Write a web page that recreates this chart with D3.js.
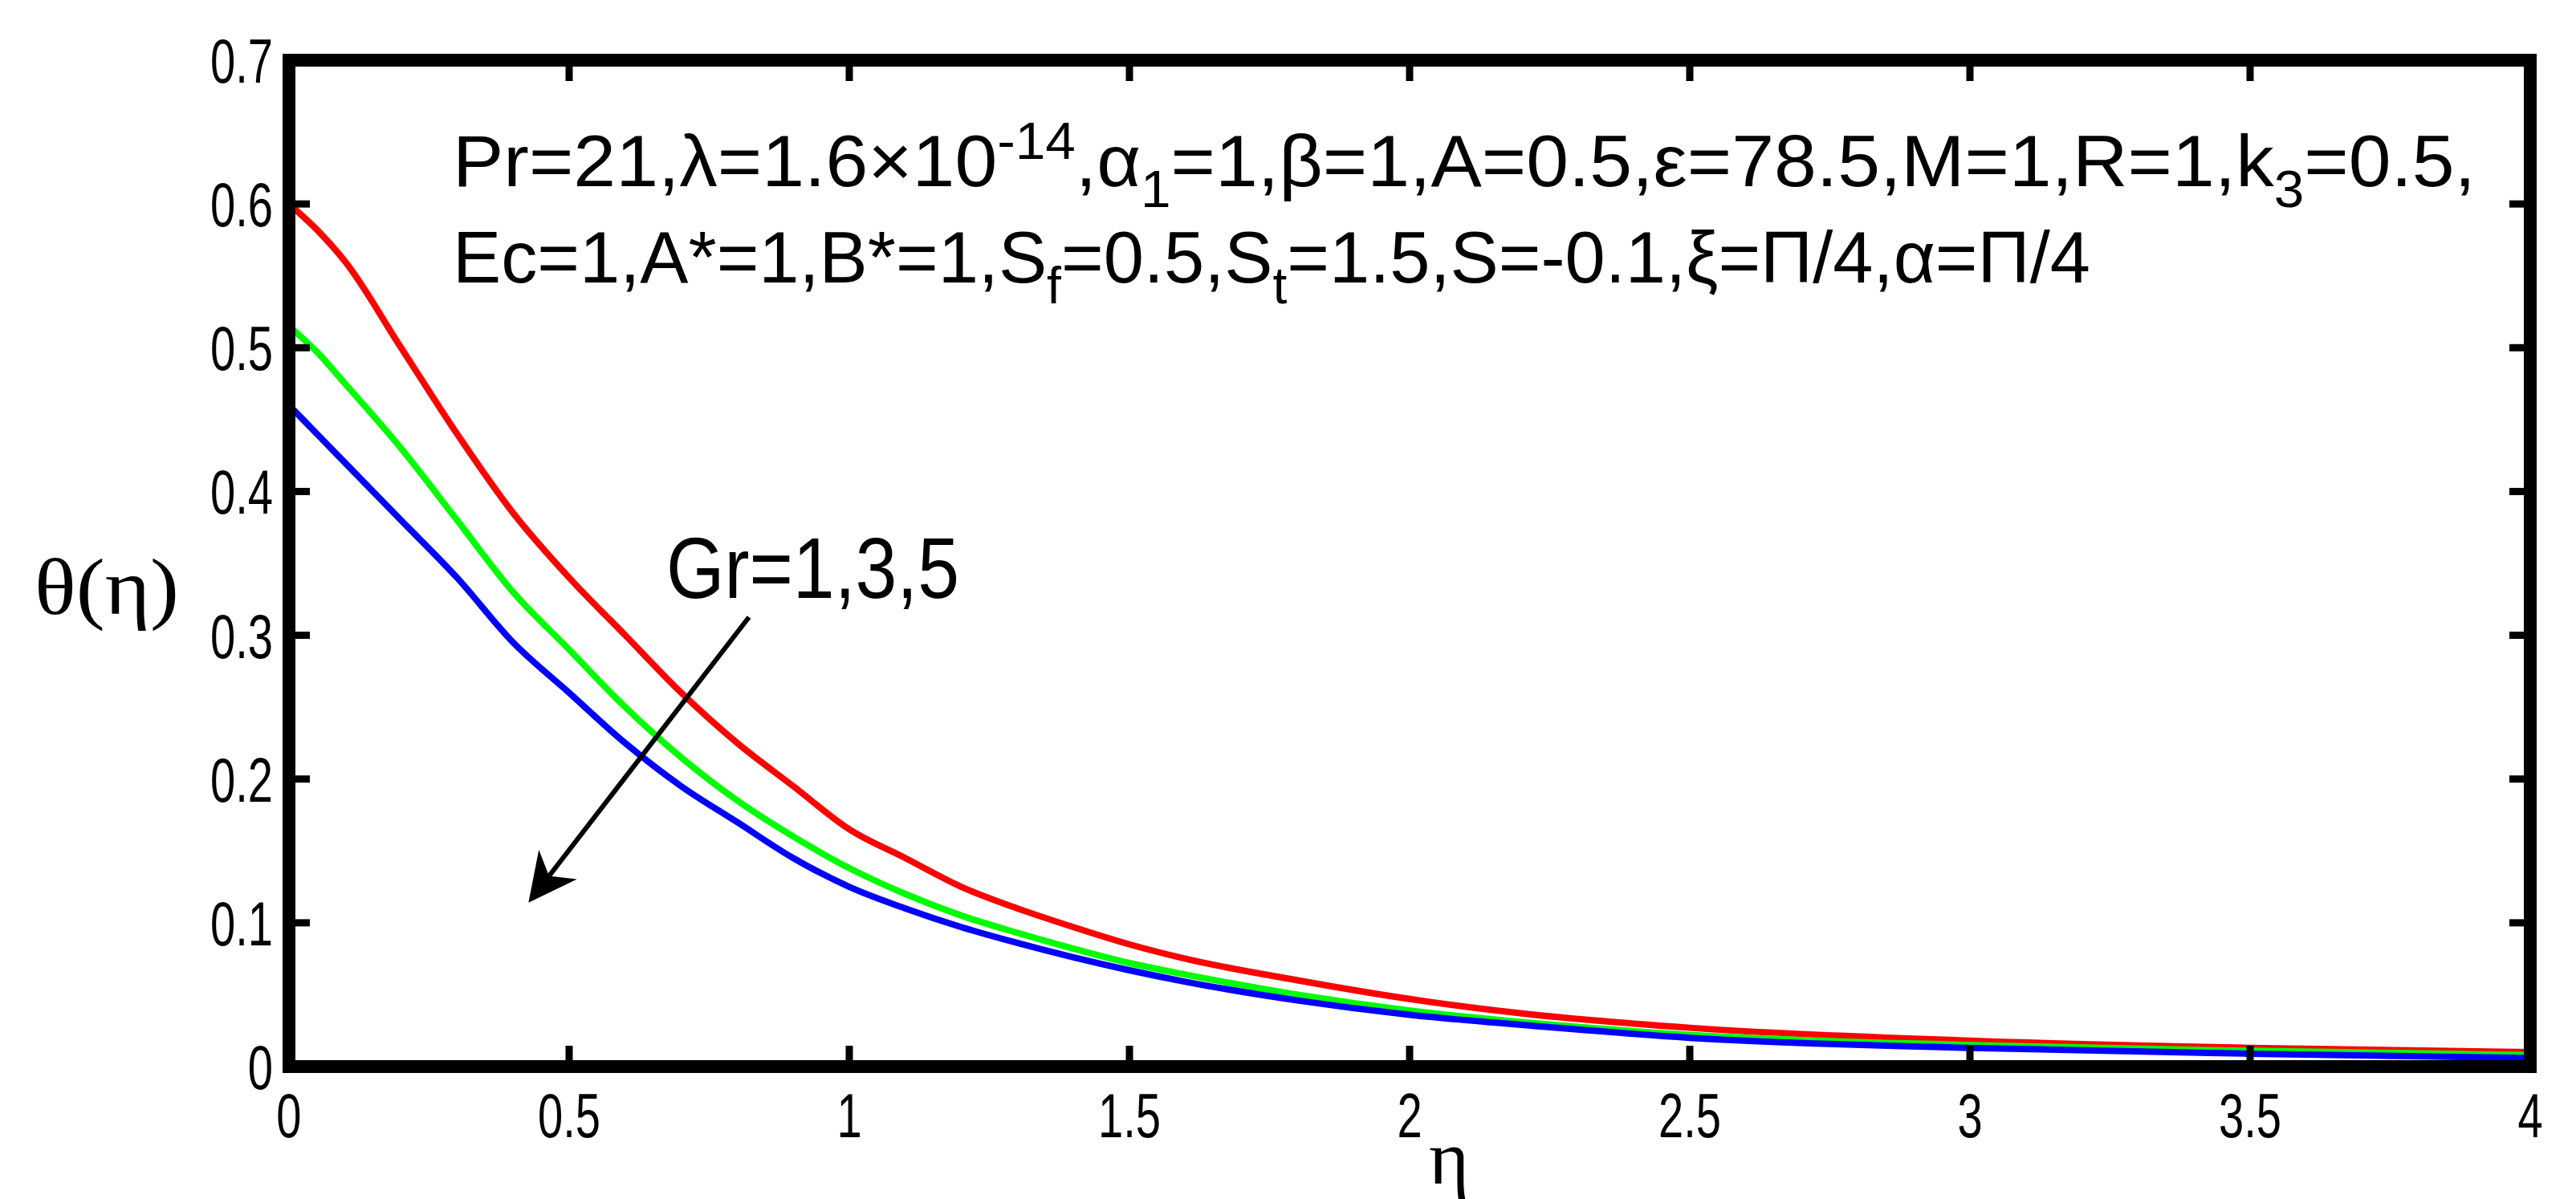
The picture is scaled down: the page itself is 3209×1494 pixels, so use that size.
<!DOCTYPE html>
<html><head><meta charset="utf-8">
<script src="https://cdn.jsdelivr.net/npm/d3@7"></script>
<style>body{margin:0;background:#fff}</style>
</head><body>
<svg id="c" width="3209" height="1494"></svg>
<script>
const eta = [0,0.05,0.1,0.2,0.3,0.4,0.5,0.6,0.7,0.8,0.9,1,1.1,1.2,1.3,1.4,1.5,1.6,1.8,2,2.2,2.5,3,3.5,4];
const gr1 = [0.6,0.582,0.56,0.5,0.44,0.385,0.34,0.3,0.26,0.225,0.195,0.165,0.145,0.125,0.11,0.097,0.085,0.075,0.06,0.047,0.037,0.027,0.018,0.013,0.01];
const gr3 = [0.515,0.497,0.475,0.43,0.38,0.33,0.29,0.25,0.215,0.185,0.16,0.138,0.12,0.105,0.093,0.082,0.072,0.064,0.05,0.039,0.031,0.022,0.015,0.011,0.008];
const gr5 = [0.46,0.44,0.42,0.38,0.34,0.295,0.26,0.225,0.195,0.17,0.145,0.125,0.11,0.097,0.086,0.076,0.067,0.059,0.046,0.036,0.029,0.02,0.013,0.009,0.006];
const xTicks = [0,0.5,1,1.5,2,2.5,3,3.5,4];
const yTicks = [0,0.1,0.2,0.3,0.4,0.5,0.6,0.7];
const series = [{v:gr1,c:"#ff0000"},{v:gr3,c:"#00ff00"},{v:gr5,c:"#0000ff"}];

const svg = d3.select("#c");
const x = d3.scaleLinear().domain([0,4]).range([360,3152]);
const y = d3.scaleLinear().domain([0,0.7]).range([1329,75]);
const font = "Liberation Sans, Arial, sans-serif";

const line = d3.line().x((d,i)=>x(eta[i])).y(d=>y(d)).curve(d3.curveMonotoneX);
series.forEach(s=>svg.append("path").attr("d",line(s.v)).attr("fill","none").attr("stroke",s.c).attr("stroke-width",8));

const tl = 26;
xTicks.forEach(t=>{
  svg.append("line").attr("x1",x(t)).attr("x2",x(t)).attr("y1",y(0)).attr("y2",y(0)-tl).attr("stroke","#000").attr("stroke-width",9);
  svg.append("line").attr("x1",x(t)).attr("x2",x(t)).attr("y1",y(0.7)).attr("y2",y(0.7)+tl).attr("stroke","#000").attr("stroke-width",9);
  svg.append("text").attr("x",x(t)).attr("y",y(0)+88).attr("text-anchor","middle").attr("font-family",font).attr("font-size",78).attr("transform",`translate(${x(t)},0) scale(0.72,1) translate(${-x(t)},0)`).text(t);
});
yTicks.forEach(t=>{
  svg.append("line").attr("y1",y(t)).attr("y2",y(t)).attr("x1",x(0)).attr("x2",x(0)+tl).attr("stroke","#000").attr("stroke-width",9);
  svg.append("line").attr("y1",y(t)).attr("y2",y(t)).attr("x1",x(4)).attr("x2",x(4)-tl).attr("stroke","#000").attr("stroke-width",9);
  svg.append("text").attr("x",340).attr("y",y(t)+28).attr("text-anchor","end").attr("font-family",font).attr("font-size",78).attr("transform",`translate(340,0) scale(0.72,1) translate(-340,0)`).text(t);
});
svg.append("rect").attr("x",x(0)).attr("y",y(0.7)).attr("width",x(4)-x(0)).attr("height",y(0)-y(0.7)).attr("fill","none").attr("stroke","#000").attr("stroke-width",16);

svg.append("text").attr("x",1805).attr("y",1475).attr("text-anchor","middle").attr("font-family","Liberation Serif, serif").attr("font-size",96).text("η");
svg.append("text").attr("x",133).attr("y",765).attr("text-anchor","middle").attr("font-family","Liberation Serif, serif").attr("font-size",100).attr("textLength",180).attr("lengthAdjust","spacingAndGlyphs").text("θ(η)");

function rich(parts, xx, yy, len){
  const t = svg.append("text").attr("x",xx).attr("y",yy).attr("font-family",font).attr("font-size",90).attr("textLength",len).attr("lengthAdjust","spacingAndGlyphs");
  parts.forEach(p=>{
    const ts = t.append("tspan").text(p[0]);
    if(p[1]==="sub") ts.attr("font-size",64).attr("dy",26);
    if(p[1]==="sup") ts.attr("font-size",64).attr("dy",-34);
    if(p[1]==="back") ts.attr("dy",p[2]);
  });
}
rich([["Pr=21,λ=1.6×10"],["-14","sup"],[",α","back",34],["1","sub"],["=1,β=1,A=0.5,ε=78.5,M=1,R=1,k","back",-26],["3","sub"],["=0.5,","back",-26]],564,232,2520);
rich([["Ec=1,A*=1,B*=1,S"],["f","sub"],["=0.5,S","back",-26],["t","sub"],["=1.5,S=-0.1,ξ=Π/4,α=Π/4","back",-26]],564,352,2040);

svg.append("text").attr("x",830).attr("y",745).attr("font-family",font).attr("font-size",108).attr("textLength",365).attr("lengthAdjust","spacingAndGlyphs").text("Gr=1,3,5");

svg.append("defs").append("marker").attr("id","ah").attr("viewBox","0 0 10 10").attr("refX",9).attr("refY",5).attr("markerWidth",60).attr("markerHeight",60).attr("markerUnits","userSpaceOnUse").attr("orient","auto")
  .append("path").attr("d","M0,0 L10,5 L0,10 L3,5 Z").attr("fill","#000");
svg.append("line").attr("x1",933).attr("y1",769).attr("x2",662).attr("y2",1120).attr("stroke","#000").attr("stroke-width",6).attr("marker-end","url(#ah)");
</script>
</body></html>
